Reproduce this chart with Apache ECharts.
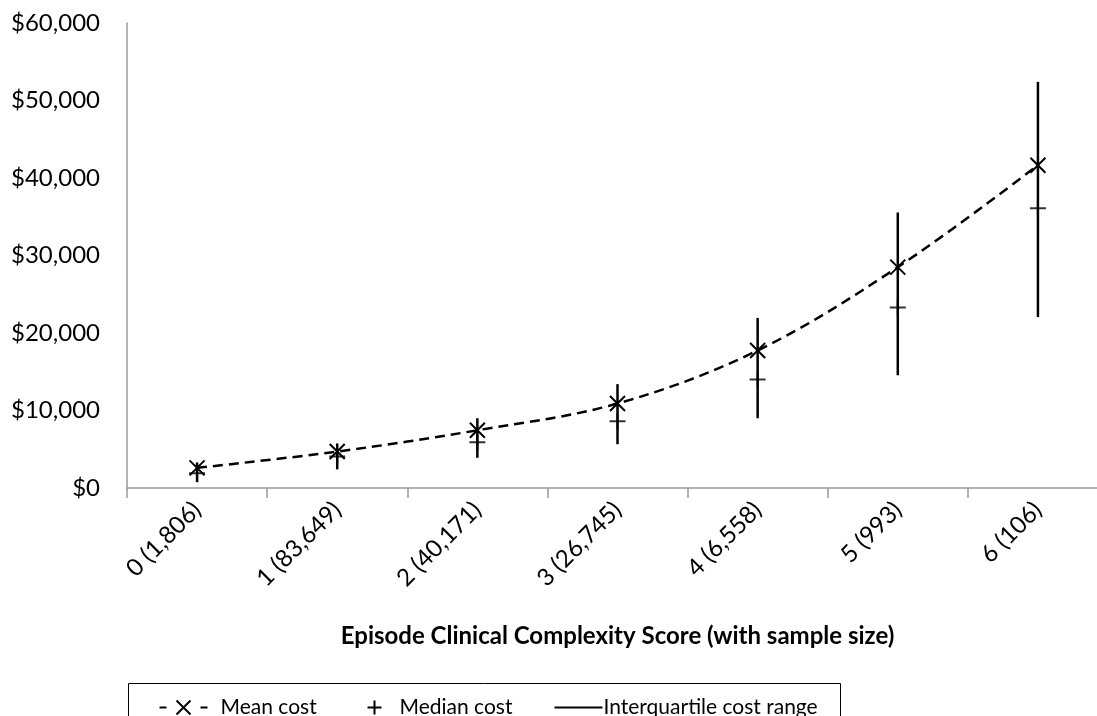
<!DOCTYPE html>
<html>
<head>
<meta charset="utf-8">
<script src="https://cdn.jsdelivr.net/npm/echarts@6/dist/echarts.min.js"></script>
<style>
  html, body { margin: 0; padding: 0; background: #fff; }
  #chart { width: 1097px; height: 716px; }
</style>
</head>
<body>
<div id="chart"></div>
<script>
// Episode cost by clinical complexity score
const categories = ['0 (1,806)', '1 (83,649)', '2 (40,171)', '3 (26,745)', '4 (6,558)', '5 (993)', '6 (106)'];
const meanCost   = [2600, 4700, 7450, 10900, 17750, 28500, 41650];
const medianCost = [1900, 4050, 5900, 8600, 14000, 23300, 36100];
const q1Cost     = [750, 2400, 3900, 5650, 9000, 14550, 22050];
const q3Cost     = [3300, 5750, 9000, 13400, 21950, 35550, 52400];
const yTicks     = [0, 10000, 20000, 30000, 40000, 50000, 60000];

const FONT = 'Lato, "Noto Sans", sans-serif';
const AXIS_GRAY = '#9a9a9a';

const crossPath = 'path://M0,0L16,16M16,0L0,16';
const plusPath  = 'path://M0,8L16,8M8,0L8,16';

const iqrData = categories.map((c, i) => [i, q1Cost[i], q3Cost[i]]);

const chart = echarts.init(document.getElementById('chart'), null, { renderer: 'canvas' });

chart.setOption({
  animation: false,
  backgroundColor: '#fff',
  // the plot runs a little past the right edge of the canvas
  grid: { left: 127, width: 981, top: 23, height: 465, containLabel: false, outerBoundsMode: 'none' },
  xAxis: {
    type: 'category',
    data: categories,
    boundaryGap: true,
    name: 'Episode Clinical Complexity Score (with sample size)',
    nameLocation: 'middle',
    nameGap: 136,
    nameTextStyle: { fontFamily: FONT, fontWeight: 'bold', fontSize: 24, color: '#000' },
    axisLine: { lineStyle: { color: AXIS_GRAY, width: 1.5 } },
    axisTick: { show: true, alignWithLabel: false, length: 10, lineStyle: { color: AXIS_GRAY, width: 1.5 } },
    axisLabel: { rotate: 45, margin: 18, fontFamily: FONT, fontSize: 24, color: '#000', interval: 0 },
    splitLine: { show: false }
  },
  yAxis: {
    type: 'value',
    min: yTicks[0],
    max: yTicks[yTicks.length - 1],
    interval: yTicks[1] - yTicks[0],
    axisLine: { show: true, lineStyle: { color: AXIS_GRAY, width: 1.5 } },
    axisTick: { show: false },
    splitLine: { show: false },
    axisLabel: {
      margin: 27,
      fontFamily: FONT, fontSize: 24, color: '#000',
      formatter: v => '$' + v.toLocaleString('en-US')
    }
  },
  series: [
    {
      name: 'Interquartile cost range',
      type: 'custom',
      data: iqrData,
      z: 2,
      renderItem: (params, api) => {
        const lo = api.coord([api.value(0), api.value(1)]);
        const hi = api.coord([api.value(0), api.value(2)]);
        return {
          type: 'line',
          shape: { x1: lo[0], y1: lo[1], x2: hi[0], y2: hi[1] },
          style: { stroke: '#000', lineWidth: 2.5 }
        };
      }
    },
    {
      name: 'Median cost',
      type: 'scatter',
      data: medianCost,
      symbol: plusPath,
      symbolSize: 16,
      z: 3,
      itemStyle: { color: 'rgba(0,0,0,0)', borderColor: '#000', borderWidth: 2 }
    },
    {
      name: 'Mean cost',
      type: 'line',
      data: meanCost,
      smooth: 0.35,
      symbol: crossPath,
      symbolSize: 15,
      showSymbol: true,
      z: 4,
      lineStyle: { color: '#000', width: 2.5, type: [10, 6] },
      itemStyle: { color: 'rgba(0,0,0,0)', borderColor: '#000', borderWidth: 2 }
    }
  ],
  graphic: [
    {
      type: 'group',
      left: 126, top: 681,
      children: [
        { type: 'rect', shape: { x: 0, y: 0, width: 712, height: 60 }, style: { fill: 'none', stroke: '#000', lineWidth: 1 } },
        // mean: dash, cross, dash
        { type: 'line', shape: { x1: 31, y1: 24, x2: 38, y2: 24 }, style: { stroke: '#000', lineWidth: 2 } },
        { type: 'polyline', shape: { points: [[48, 17], [62, 31]] }, style: { stroke: '#000', lineWidth: 2, fill: null } },
        { type: 'polyline', shape: { points: [[62, 17], [48, 31]] }, style: { stroke: '#000', lineWidth: 2, fill: null } },
        { type: 'line', shape: { x1: 72, y1: 24, x2: 79, y2: 24 }, style: { stroke: '#000', lineWidth: 2 } },
        { type: 'text', x: 92, y: 24, style: { text: 'Mean cost', font: '21px ' + FONT, fill: '#000', verticalAlign: 'middle' } },
        // median: plus
        { type: 'line', shape: { x1: 239, y1: 24, x2: 253, y2: 24 }, style: { stroke: '#000', lineWidth: 2 } },
        { type: 'line', shape: { x1: 246, y1: 17, x2: 246, y2: 31 }, style: { stroke: '#000', lineWidth: 2 } },
        { type: 'text', x: 271, y: 24, style: { text: 'Median cost', font: '21px ' + FONT, fill: '#000', verticalAlign: 'middle' } },
        // interquartile: solid line
        { type: 'line', shape: { x1: 426, y1: 24, x2: 474, y2: 24 }, style: { stroke: '#000', lineWidth: 2 } },
        { type: 'text', x: 475, y: 24, style: { text: 'Interquartile cost range', font: '21px ' + FONT, fill: '#000', verticalAlign: 'middle' } }
      ]
    }
  ]
});
</script>
</body>
</html>
